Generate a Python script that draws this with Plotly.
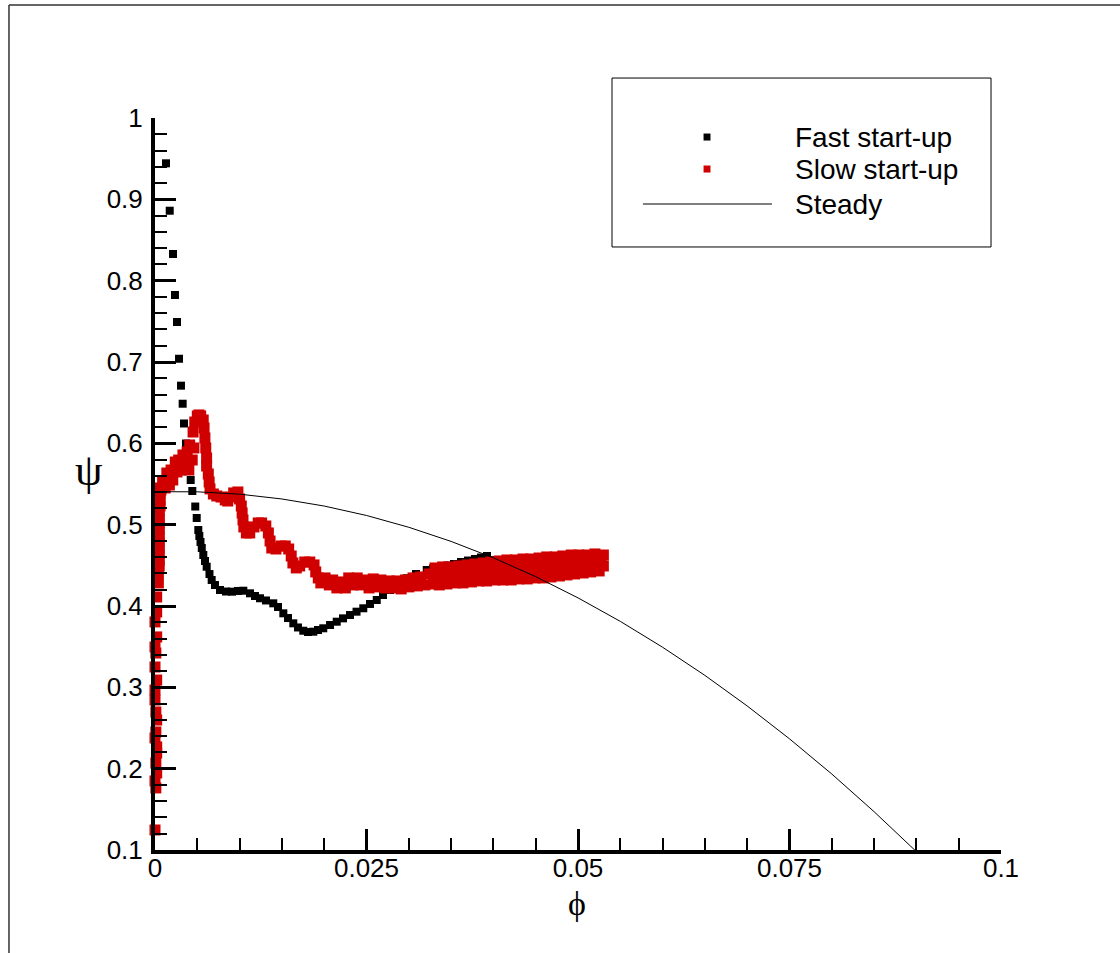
import plotly.graph_objects as go

# ---- Steady characteristic (phi, psi) ----
steady_phi = [0.0, 0.005, 0.01, 0.015, 0.02, 0.025, 0.03, 0.035, 0.04, 0.045,
              0.05, 0.055, 0.06, 0.065, 0.07, 0.075, 0.08, 0.085, 0.09]
steady_psi = [0.5405, 0.5404, 0.5375, 0.5316, 0.5229, 0.5113, 0.4968, 0.4794, 0.4592, 0.4361,
              0.4100, 0.3811, 0.3493, 0.3147, 0.2771, 0.2367, 0.1934, 0.1471, 0.0980]

# ---- Fast start-up trajectory ----
fast_phi = [0.0013, 0.00174, 0.00213, 0.00236, 0.0026, 0.00284, 0.00307, 0.00327, 0.00343, 0.00366,
            0.00396, 0.00422, 0.00441, 0.00476, 0.00493,
            0.00512, 0.00524, 0.00538, 0.00553, 0.00571, 0.00591, 0.00611, 0.00644, 0.0067, 0.00709,
            0.00768, 0.00839, 0.0091, 0.00981, 0.01044, 0.01123, 0.01182, 0.01241, 0.01312, 0.01398,
            0.01454, 0.01517, 0.01572, 0.01635, 0.0169, 0.01753, 0.01809, 0.01871, 0.01927, 0.01989,
            0.02069, 0.02148, 0.02222, 0.02305, 0.02382, 0.02462, 0.02541, 0.02621, 0.02695, 0.02778,
            0.02872, 0.02975, 0.03085, 0.03212, 0.03286, 0.03369, 0.03452, 0.03534, 0.03617, 0.037,
            0.03783, 0.03853, 0.03924, 0.03995, 0.04078, 0.04137, 0.04196, 0.04279, 0.04362, 0.04444,
            0.04527, 0.0461, 0.04693, 0.04775, 0.04858]
fast_psi = [0.9443, 0.886, 0.8328, 0.7824, 0.7492, 0.704, 0.6709, 0.6487, 0.6244, 0.5998,
            0.5758, 0.5549, 0.5414, 0.5223, 0.5082,
            0.4934, 0.4861, 0.4787, 0.4713, 0.4627, 0.4553, 0.4483, 0.4393, 0.4320, 0.4258,
            0.4197, 0.4178, 0.4176, 0.4185, 0.4188, 0.4156, 0.4123, 0.4095, 0.4068, 0.4033,
            0.3988, 0.3910, 0.3852, 0.3787, 0.3736, 0.3696, 0.3680, 0.3684, 0.3705, 0.3726,
            0.3766, 0.3807, 0.3848, 0.3889, 0.3930, 0.3972, 0.4025, 0.4074, 0.4135, 0.4197,
            0.4270, 0.4341, 0.4393, 0.4443, 0.4461, 0.4479, 0.4498, 0.4516, 0.4541, 0.4559,
            0.4578, 0.4596, 0.4615, 0.4565, 0.4492, 0.4430, 0.4369, 0.4369, 0.4369, 0.4369,
            0.4369, 0.4375, 0.4381, 0.4387, 0.4393]

# ---- Slow start-up trajectory ----
slow_phi = [
    # rise along the shut-off line
    0.0, 0.0001, 0.0, 0.0002, 0.0001, 0.0002, 0.0002, 0.0, 0.0001, 0.0002,
    0.0001, 0.0, 0.0, 0.0002, 0.0, 0.0001, 0.0, 0.0002, 0.0, 0.0002,
    0.0002, 0.0004, 0.0004, 0.0005, 0.0005, 0.0005, 0.0005, 0.0005, 0.0005, 0.0005,
    0.0005, 0.0005, 0.0005, 0.0006, 0.0006, 0.0006, 0.0006,
    # overshoot and peak
    0.0007, 0.0009, 0.0012, 0.0014, 0.0017, 0.0019, 0.0021, 0.0024, 0.0026, 0.0028,
    0.0031, 0.0033, 0.0035, 0.0038, 0.0040, 0.0041, 0.0044, 0.0045, 0.0046, 0.0047,
    0.0050, 0.0052, 0.0054, 0.0057, 0.0058, 0.0059, 0.0060, 0.0061, 0.0061, 0.0063,
    0.0064, 0.0065,
    # decaying oscillation
    0.0069, 0.0073, 0.0078, 0.0083, 0.0086, 0.0090, 0.0093, 0.0098, 0.0100, 0.0102,
    0.0103, 0.0104, 0.0105, 0.0108, 0.0112, 0.0117, 0.0122, 0.0126, 0.0131, 0.0134,
    0.0136, 0.0138, 0.0143, 0.0149, 0.0154, 0.0158, 0.0161, 0.0163, 0.0167, 0.0171,
    0.0177, 0.0183, 0.0188, 0.0190, 0.0193,
    0.0196, 0.0201, 0.0206, 0.0210, 0.0215, 0.0220, 0.0225, 0.0229, 0.0234, 0.0239,
    0.0243, 0.0248, 0.0253, 0.0258, 0.0262, 0.0267, 0.0272, 0.0277, 0.0281, 0.0286,
    0.0291, 0.0296, 0.0300, 0.0305, 0.0310, 0.0314, 0.0319, 0.0324, 0.0329,
    # slow drift with fluctuation
    0.0331, 0.0333, 0.0336, 0.0338, 0.0340, 0.0343, 0.0345, 0.0348, 0.0350, 0.0352,
    0.0355, 0.0357, 0.0359, 0.0362, 0.0364, 0.0366, 0.0369, 0.0371, 0.0374, 0.0376,
    0.0378, 0.0381, 0.0383, 0.0385, 0.0388, 0.0390, 0.0392, 0.0395, 0.0397, 0.0400,
    0.0402, 0.0404, 0.0407, 0.0409, 0.0411, 0.0414, 0.0416, 0.0418, 0.0421, 0.0423,
    0.0426, 0.0428, 0.0430, 0.0433, 0.0435, 0.0437, 0.0440, 0.0442, 0.0444, 0.0447,
    0.0449, 0.0452, 0.0454, 0.0456, 0.0459, 0.0461, 0.0463, 0.0466, 0.0468, 0.0470,
    0.0473, 0.0475, 0.0478, 0.0480, 0.0482, 0.0485, 0.0487, 0.0489, 0.0492, 0.0494,
    0.0496, 0.0499, 0.0501, 0.0504, 0.0506, 0.0508, 0.0511, 0.0513, 0.0515, 0.0518,
    0.0520, 0.0522, 0.0525, 0.0527, 0.0530, 0.0530]
slow_psi = [
    0.1246, 0.1763, 0.1849, 0.1947, 0.2070, 0.2193, 0.2267, 0.2377, 0.2451, 0.2598,
    0.2697, 0.2844, 0.2967, 0.3090, 0.3250, 0.3422, 0.3496, 0.3620, 0.3804, 0.3927,
    0.4111, 0.4284, 0.4406, 0.4492, 0.4566, 0.4640, 0.4713, 0.4787, 0.4861, 0.4935,
    0.5009, 0.5082, 0.5156, 0.5230, 0.5304, 0.5377, 0.5451,
    0.5426, 0.5537, 0.5451, 0.5635, 0.5488, 0.5672, 0.5549, 0.5770, 0.5648, 0.5795,
    0.5672, 0.5857, 0.5770, 0.5894, 0.5672, 0.5980, 0.5795, 0.6139, 0.5943, 0.6262,
    0.6337, 0.6349, 0.6337, 0.6287, 0.6189, 0.6066, 0.5943, 0.5820, 0.5721, 0.5623,
    0.5525, 0.5439,
    0.5377, 0.5353, 0.5340, 0.5304, 0.5291, 0.5340, 0.5390, 0.5402, 0.5316, 0.5230,
    0.5144, 0.5058, 0.4972, 0.4898, 0.4898, 0.4972, 0.5021, 0.5021, 0.4984, 0.4898,
    0.4799, 0.4713, 0.4701, 0.4738, 0.4738, 0.4701, 0.4615, 0.4529, 0.4468, 0.4492,
    0.4541, 0.4541, 0.4505, 0.4419, 0.4345,
    0.4284, 0.4345, 0.4259, 0.4320, 0.4222, 0.4296, 0.4222, 0.4345, 0.4259, 0.4345,
    0.4259, 0.4320, 0.4222, 0.4333, 0.4235, 0.4320, 0.4222, 0.4308, 0.4222, 0.4308,
    0.4210, 0.4320, 0.4235, 0.4345, 0.4247, 0.4357, 0.4259, 0.4394, 0.4271,
    0.4468, 0.4357, 0.4259, 0.4369, 0.4480, 0.4369, 0.4271, 0.4382, 0.4480, 0.4382,
    0.4284, 0.4382, 0.4492, 0.4394, 0.4284, 0.4394, 0.4505, 0.4394, 0.4296, 0.4406,
    0.4517, 0.4406, 0.4308, 0.4419, 0.4529, 0.4419, 0.4308, 0.4431, 0.4541, 0.4431,
    0.4320, 0.4431, 0.4554, 0.4443, 0.4320, 0.4443, 0.4566, 0.4443, 0.4320, 0.4443,
    0.4566, 0.4456, 0.4333, 0.4456, 0.4578, 0.4456, 0.4333, 0.4456, 0.4578, 0.4468,
    0.4345, 0.4468, 0.4590, 0.4468, 0.4345, 0.4480, 0.4603, 0.4480, 0.4357, 0.4480,
    0.4603, 0.4492, 0.4369, 0.4492, 0.4615, 0.4492, 0.4382, 0.4505, 0.4627, 0.4505,
    0.4394, 0.4517, 0.4627, 0.4517, 0.4406, 0.4517, 0.4627, 0.4529, 0.4419, 0.4529,
    0.4640, 0.4541, 0.4431, 0.4541, 0.4627, 0.4492]

series_names = ["Fast start-up", "Slow start-up", "Steady"]

FONT = "Liberation Sans, Arial, sans-serif"
GREEK = "Liberation Serif, Times New Roman, serif"
BLACK = "black"
RED = "#d10000"

fig = go.Figure()

fig.add_trace(go.Scatter(
    x=fast_phi, y=fast_psi, mode="markers", name=series_names[0],
    marker=dict(symbol="square", size=8, color=BLACK, line=dict(width=0)),
    cliponaxis=False))

fig.add_trace(go.Scatter(
    x=slow_phi, y=slow_psi, mode="markers", name=series_names[1],
    marker=dict(symbol="square", size=11, color=RED, line=dict(width=0)),
    cliponaxis=False))

fig.add_trace(go.Scatter(
    x=steady_phi, y=steady_psi, mode="lines", name=series_names[2],
    line=dict(color=BLACK, width=1)))

axis_common = dict(
    showgrid=False, zeroline=False,
    showline=True, linecolor=BLACK, linewidth=4,
    ticks="inside", ticklen=21, tickwidth=3, tickcolor=BLACK,
    tickfont=dict(family=FONT, size=26, color=BLACK),
)

fig.update_xaxes(range=[0, 0.1], tick0=0, dtick=0.025, ticklabelstandoff=-8,
                 minor=dict(dtick=0.005, ticks="inside", ticklen=12, tickwidth=1.5,
                            tickcolor=BLACK, showgrid=False),
                 **axis_common)
fig.update_yaxes(range=[0.1, 1.0], tick0=0, dtick=0.1, ticklabelstandoff=3,
                 minor=dict(dtick=0.02, ticks="inside", ticklen=12, tickwidth=1.5,
                            tickcolor=BLACK, showgrid=False),
                 **axis_common)

# axis symbols
fig.add_annotation(text="ψ", xref="paper", yref="paper", x=-0.078, y=0.518,
                   xanchor="center", yanchor="middle", showarrow=False,
                   font=dict(family=GREEK, size=44, color=BLACK))
fig.add_annotation(text="ϕ", xref="paper", yref="paper", x=0.499, y=-0.0735,
                   xanchor="center", yanchor="middle", showarrow=False,
                   font=dict(family=GREEK, size=34, color=BLACK))

# legend: frame, keys and labels
fig.add_shape(type="rect", xref="paper", yref="paper",
              x0=0.5402, x1=0.9882, y0=0.8238, y1=1.0546,
              line=dict(color=BLACK, width=1), fillcolor="white", layer="below")
key_x = 0.6525
key_half_w, key_half_h = 0.0041, 0.0048
row_y = [0.9740, 0.9303, 0.8825]
for colour, yc in zip([BLACK, RED], row_y[:2]):
    fig.add_shape(type="rect", xref="paper", yref="paper",
                  x0=key_x - key_half_w, x1=key_x + key_half_w,
                  y0=yc - key_half_h, y1=yc + key_half_h,
                  line=dict(width=0), fillcolor=colour)
fig.add_shape(type="line", xref="paper", yref="paper",
              x0=0.5768, x1=0.7293, y0=row_y[2], y1=row_y[2],
              line=dict(color=BLACK, width=1))
for name, yc in zip(series_names, row_y):
    fig.add_annotation(text=name, xref="paper", yref="paper", x=0.7541, y=yc,
                       xanchor="left", yanchor="middle", showarrow=False,
                       font=dict(family=FONT, size=28, color=BLACK))

# outer page frame (top and left edges)
fig.add_shape(type="line", xref="paper", yref="paper",
              x0=-0.1726, x1=1.16, y0=1.1544, y1=1.1544,
              line=dict(color="#333333", width=1.5))
fig.add_shape(type="line", xref="paper", yref="paper",
              x0=-0.1726, x1=-0.1726, y0=1.1544, y1=-0.16,
              line=dict(color="#333333", width=1.5))

fig.update_layout(
    width=1120, height=953, autosize=False,
    margin=dict(l=155, r=119, t=118, b=103, pad=0),
    paper_bgcolor="white", plot_bgcolor="white",
    font=dict(family=FONT, size=26, color=BLACK),
    showlegend=False,
)

fig.write_html("out.html")
